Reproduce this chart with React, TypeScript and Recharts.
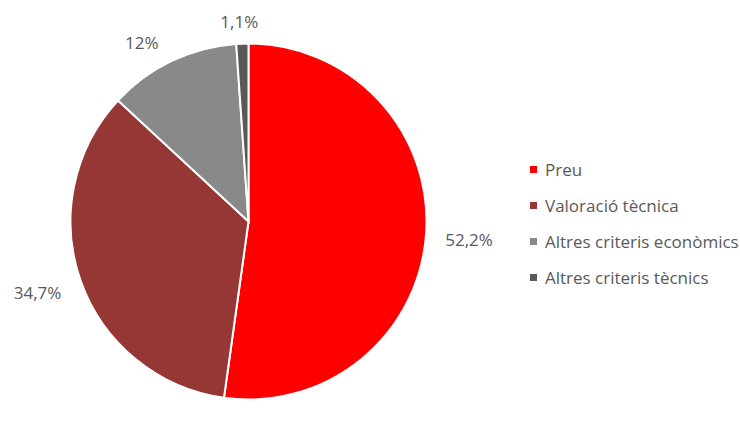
import React from 'react';
import { PieChart, Pie, Cell, Legend } from 'recharts';

const categories = ['Preu', 'Valoració tècnica', 'Altres criteris econòmics', 'Altres criteris tècnics'];
const values = [52.2, 34.7, 12, 1.1];
const valueLabels = ['52,2%', '34,7%', '12%', '1,1%'];

const COLORS = ['#ff0000', '#953735', '#898989', '#595959'];
const LABEL_GAP = 30;
const LABEL_NUDGE: [number, number][] = [[13, 4], [-15, 1], [-17, 9], [-2, 8]];
const FONT = '"Open Sans", sans-serif';
const TEXT_COLOR = '#595959';

const data = categories.map((name, i) => ({ name, value: values[i], label: valueLabels[i] }));

const RADIAN = Math.PI / 180;

const renderLabel = (props: any) => {
  const { cx, cy, midAngle, outerRadius, index } = props;
  const r = outerRadius + LABEL_GAP;
  const x = cx + r * Math.cos(-midAngle * RADIAN) + LABEL_NUDGE[index][0];
  const y = cy + r * Math.sin(-midAngle * RADIAN) + LABEL_NUDGE[index][1];
  return (
    <text x={x} y={y} fill={TEXT_COLOR} textAnchor="middle" dominantBaseline="central"
      style={{ fontFamily: FONT, fontSize: 17 }}>
      {data[index].label}
    </text>
  );
};

const renderLegend = () => (
  <div style={{ fontFamily: FONT, fontSize: 17, color: TEXT_COLOR }}>
    {data.map((d, i) => (
      <div key={d.name} style={{ display: 'flex', alignItems: 'center', height: 36 }}>
        <span style={{ display: 'inline-block', width: 7, height: 7, background: COLORS[i], marginRight: 8 }} />
        <span style={{ whiteSpace: 'nowrap' }}>{d.name}</span>
      </div>
    ))}
  </div>
);

export default function App() {
  return (
    <div style={{ position: 'absolute', left: 0, top: 0, width: 740, height: 444, background: '#fff' }}>
      <PieChart width={740} height={444} margin={{ top: 0, right: 0, bottom: 0, left: 0 }}>
        <Pie
          data={data}
          dataKey="value"
          nameKey="name"
          cx={248.5}
          cy={221.5}
          outerRadius={178}
          startAngle={90}
          endAngle={-270}
          stroke="#ffffff"
          strokeWidth={2}
          label={renderLabel}
          labelLine={false}
          isAnimationActive={false}
        >
          {data.map((d, i) => (
            <Cell key={d.name} fill={COLORS[i]} />
          ))}
        </Pie>
        <Legend
          layout="vertical"
          content={renderLegend}
          wrapperStyle={{ position: 'absolute', left: 530, top: 151, width: 210 }}
        />
      </PieChart>
    </div>
  );
}
